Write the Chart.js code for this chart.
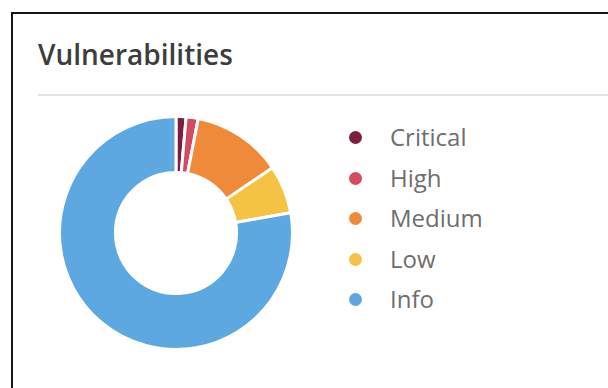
<!DOCTYPE html>
<html lang="en">
<head>
    <meta charset="UTF-8">
    <title>Vulnerabilities</title>
    <script src="https://cdn.jsdelivr.net/npm/chart.js"></script>
    <style>
        body {
            margin: 0;
            width: 608px;
            height: 388px;
            background: #fff;
            font-family: "Open Sans", sans-serif;
            overflow: hidden;
            position: relative;
        }
        .panel {
            position: absolute;
            left: 11px;
            top: 12px;
            right: -10px;
            bottom: -10px;
            border-left: 2px solid #151515;
            border-top: 2px solid #151515;
        }
        .panel h2 {
            position: absolute;
            left: 25px;
            top: 21px;
            margin: 0;
            font-size: 28px;
            font-weight: 600;
            color: #3d3d3d;
        }
        .divider {
            position: absolute;
            left: 25px;
            right: 0;
            top: 80px;
            height: 2px;
            background: #e3e3e3;
        }
        .chart-box {
            position: absolute;
            left: 58px;
            top: 115px;
            width: 236px;
            height: 236px;
        }
        .legend {
            position: absolute;
            left: 349px;
            top: 117px;
            margin: 0;
            padding: 0;
            list-style: none;
        }
        .legend li {
            height: 40.5px;
            line-height: 40px;
            font-size: 24px;
            color: #6e6e6e;
            white-space: nowrap;
        }
        .legend .dot {
            display: inline-block;
            width: 13px;
            height: 13px;
            border-radius: 50%;
            margin-right: 28px;
            vertical-align: middle;
            position: relative;
            top: -2px;
        }
    </style>
</head>
<body>
    <div class="panel">
        <h2>Vulnerabilities</h2>
        <div class="divider"></div>
    </div>
    <div class="chart-box">
        <canvas id="vulnChart"></canvas>
    </div>
    <ul id="legend" class="legend"></ul>

    <script>
        // Severity counts
        const severities = ['Critical', 'High', 'Medium', 'Low', 'Info'];
        const counts = [5, 6, 45, 24, 280];
        const colors = ['#7b1f3e', '#d44b5f', '#f08a3b', '#f5c344', '#5da8e0'];

        const ctx = document.getElementById('vulnChart').getContext('2d');
        const vulnChart = new Chart(ctx, {
            type: 'doughnut',
            data: {
                labels: severities,
                datasets: [{
                    data: counts,
                    backgroundColor: colors,
                    borderColor: '#ffffff',
                    borderWidth: 3
                }]
            },
            options: {
                responsive: true,
                maintainAspectRatio: false,
                animation: false,
                cutout: '52%',
                plugins: {
                    legend: { display: false },
                    tooltip: { enabled: false }
                }
            }
        });

        // Build the legend from the chart data
        const legendEl = document.getElementById('legend');
        vulnChart.data.labels.forEach((label, i) => {
            const li = document.createElement('li');
            li.innerHTML = `<span class="dot" style="background:${colors[i]}"></span>${label}`;
            legendEl.appendChild(li);
        });
    </script>
</body>
</html>
